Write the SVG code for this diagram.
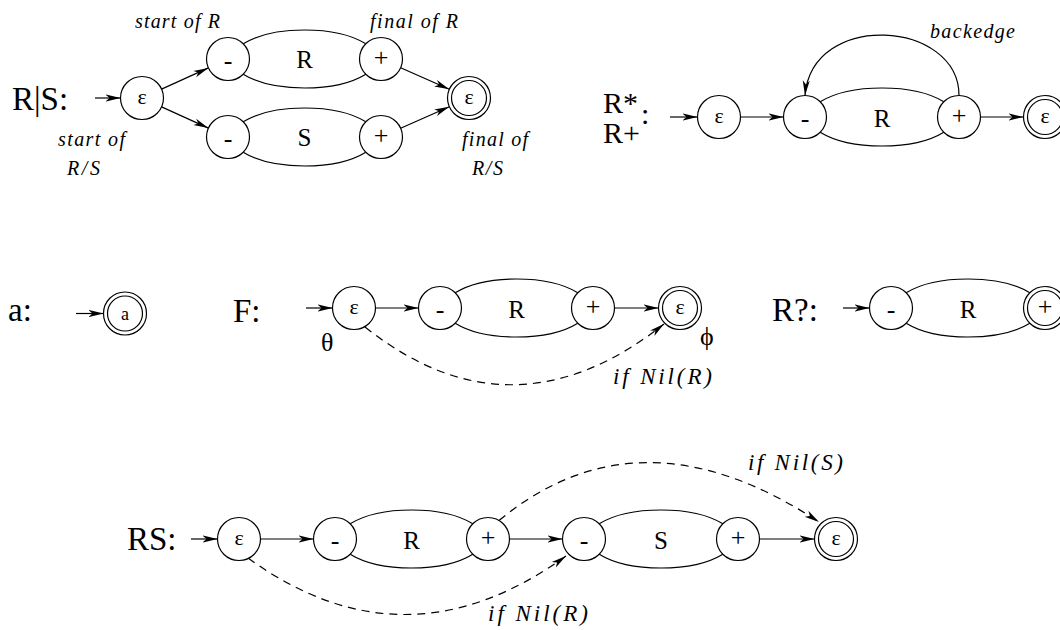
<svg xmlns="http://www.w3.org/2000/svg" width="1060" height="630" viewBox="0 0 1060 630">
<defs>
<marker id="ah" markerUnits="userSpaceOnUse" markerWidth="16" markerHeight="10" refX="15" refY="5" orient="auto">
<path d="M0,1.5 L15,5 L0,8.5 L4,5 Z" fill="#000"/>
</marker>
<style>
.n{fill:#fff;stroke:#000;stroke-width:1.2}
.lens{fill:none;stroke:#000;stroke-width:1.2}
.e{fill:none;stroke:#000;stroke-width:1.2;marker-end:url(#ah)}
.d{fill:none;stroke:#000;stroke-width:1.2;stroke-dasharray:8 6;marker-end:url(#ah)}
text{font-family:'Liberation Serif',Tinos,'Noto Serif','DejaVu Serif','Nimbus Roman','FreeSerif','Times New Roman',Times,serif;fill:#000}
.big{font-size:33px}
.sym{font-size:26px;text-anchor:middle}
.eps{font-size:22px;text-anchor:middle}
.lab{font-size:25px;text-anchor:middle}
.it{font-style:italic;font-size:20px}
.it2{font-style:italic;font-size:23px}
.gr{font-size:26px}
</style>
</defs>
<rect width="1060" height="630" fill="#fff"/>

<g id="lenses">
<path class="lens" d="M243.2,43.8 C273,25.4 336,25.4 365.8,43.8 M243.2,74.2 C273,92.6 336,92.6 365.8,74.2"/>
<path class="lens" d="M243.2,121.8 C273,103.4 336,103.4 365.8,121.8 M243.2,152.2 C273,170.6 336,170.6 365.8,152.2"/>
<path class="lens" d="M820.2,101.8 C850,83.4 914,83.4 943.8,101.8 M820.2,132.2 C850,150.6 914,150.6 943.8,132.2"/>
<path class="lens" d="M455.2,292.8 C485,274.4 548,274.4 577.8,292.8 M455.2,323.2 C485,341.6 548,341.6 577.8,323.2"/>
<path class="lens" d="M906.2,292.8 C936,274.4 1000,274.4 1029.8,292.8 M906.2,323.2 C936,341.6 1000,341.6 1029.8,323.2"/>
<path class="lens" d="M350.2,523.8 C380,505.4 443,505.4 472.8,523.8 M350.2,554.2 C380,572.6 443,572.6 472.8,554.2"/>
<path class="lens" d="M599.2,523.8 C629,505.4 693,505.4 722.8,523.8 M599.2,554.2 C629,572.6 693,572.6 722.8,554.2"/>
</g>

<g id="connectors">
<line class="e" x1="95" y1="98" x2="120.5" y2="98"/>
<line class="e" x1="161.6" y1="89.1" x2="208.4" y2="67.9"/>
<line class="e" x1="161.6" y1="106.9" x2="208.4" y2="128.1"/>
<line class="e" x1="400.6" y1="67.7" x2="449.3" y2="89.3"/>
<line class="e" x1="400.6" y1="128.3" x2="449.3" y2="106.7"/>
<line class="e" x1="670" y1="117" x2="697.5" y2="117"/>
<line class="e" x1="740.5" y1="117" x2="783.5" y2="117"/>
<line class="e" x1="980.5" y1="117" x2="1023.5" y2="117"/>
<path class="e" d="M959,95.5 C959,20 812,10 805,95.5"/>
<line class="e" x1="76" y1="313.5" x2="103.5" y2="313.5"/>
<line class="e" x1="306" y1="308" x2="332.5" y2="308"/>
<line class="e" x1="375.5" y1="308" x2="418.5" y2="308"/>
<line class="e" x1="614.5" y1="308" x2="658.5" y2="308"/>
<path class="d" d="M365,327 Q512,444 664,324"/>
<line class="e" x1="843" y1="308" x2="869.5" y2="308"/>
<line class="e" x1="191" y1="539" x2="217.5" y2="539"/>
<line class="e" x1="260.5" y1="539" x2="313.5" y2="539"/>
<line class="e" x1="509.5" y1="539" x2="562.5" y2="539"/>
<line class="e" x1="759.5" y1="539" x2="814.5" y2="539"/>
<path class="d" d="M248,558 Q405,672 566,556"/>
<path class="d" d="M499,520.5 Q640,404 819,522"/>
</g>

<text class="big" x="12" y="110">R|S:</text>
<g id="rs_start"><circle class="n" cx="142" cy="98" r="21.5"/><text class="eps" x="142" y="104">ε</text></g>
<g id="rs_r_minus"><circle class="n" cx="228" cy="59" r="21.5"/><text class="sym" x="228" y="69">-</text></g>
<g id="rs_r_plus"><circle class="n" cx="381" cy="59" r="21.5"/><text class="sym" x="381" y="66">+</text></g>
<g id="rs_s_minus"><circle class="n" cx="228" cy="137" r="21.5"/><text class="sym" x="228" y="147">-</text></g>
<g id="rs_s_plus"><circle class="n" cx="381" cy="137" r="21.5"/><text class="sym" x="381" y="144">+</text></g>
<g id="rs_final"><circle class="n" cx="469" cy="98" r="21.5"/><circle class="n" cx="469" cy="98" r="17.5"/><text class="eps" x="469" y="104">ε</text></g>
<text class="lab" x="304.5" y="68">R</text>
<text class="lab" x="304.5" y="146">S</text>
<text class="it" x="135" y="28" textLength="85" lengthAdjust="spacing">start of R</text>
<text class="it" x="370" y="28" textLength="88" lengthAdjust="spacing">final of R</text>
<text class="it" x="58" y="146" textLength="67" lengthAdjust="spacing">start of</text>
<text class="it" x="67" y="175" textLength="33" lengthAdjust="spacing">R/S</text>
<text class="it" x="462" y="146" textLength="66" lengthAdjust="spacing">final of</text>
<text class="it" x="472" y="175" textLength="31" lengthAdjust="spacing">R/S</text>

<text class="big" x="603" y="113" style="font-size:30px">R*</text>
<text class="big" x="603" y="143" style="font-size:30px">R+</text>
<text class="big" x="641" y="124" style="font-size:30px">:</text>
<g id="star_start"><circle class="n" cx="719" cy="117" r="21.5"/><text class="eps" x="719" y="123">ε</text></g>
<g id="star_minus"><circle class="n" cx="805" cy="117" r="21.5"/><text class="sym" x="805" y="127">-</text></g>
<g id="star_plus"><circle class="n" cx="959" cy="117" r="21.5"/><text class="sym" x="959" y="124">+</text></g>
<g id="star_final"><circle class="n" cx="1045" cy="117" r="21.5"/><circle class="n" cx="1045" cy="117" r="17.5"/><text class="eps" x="1045" y="123">ε</text></g>
<text class="lab" x="882" y="126.5">R</text>
<text class="it" x="930" y="38" textLength="85" lengthAdjust="spacing">backedge</text>

<text class="big" x="8" y="321">a:</text>
<g id="a_node"><circle class="n" cx="125" cy="313.5" r="21.5"/><circle class="n" cx="125" cy="313.5" r="17.5"/><text class="eps" x="125" y="320" style="font-size:18px">a</text></g>

<text class="big" x="233" y="322">F:</text>
<g id="f_start"><circle class="n" cx="354" cy="308" r="21.5"/><text class="eps" x="354" y="314">ε</text></g>
<g id="f_minus"><circle class="n" cx="440" cy="308" r="21.5"/><text class="sym" x="440" y="318">-</text></g>
<g id="f_plus"><circle class="n" cx="593" cy="308" r="21.5"/><text class="sym" x="593" y="315">+</text></g>
<g id="f_final"><circle class="n" cx="680" cy="308" r="21.5"/><circle class="n" cx="680" cy="308" r="17.5"/><text class="eps" x="680" y="314">ε</text></g>
<text class="lab" x="516.5" y="317.5">R</text>
<text class="gr" x="321" y="351">θ</text>
<text class="gr" x="700" y="345">ϕ</text>
<text class="it2" x="613" y="384" textLength="99" lengthAdjust="spacing">if Nil(R)</text>

<text class="big" x="772" y="321">R?:</text>
<g id="q_minus"><circle class="n" cx="891" cy="308" r="21.5"/><text class="sym" x="891" y="318">-</text></g>
<g id="q_plus"><circle class="n" cx="1045" cy="308" r="21.5"/><circle class="n" cx="1045" cy="308" r="17.5"/><text class="sym" x="1045" y="315">+</text></g>
<text class="lab" x="968" y="317.5">R</text>

<text class="big" x="127" y="550">RS:</text>
<g id="seq_start"><circle class="n" cx="239" cy="539" r="21.5"/><text class="eps" x="239" y="545">ε</text></g>
<g id="seq_r_minus"><circle class="n" cx="335" cy="539" r="21.5"/><text class="sym" x="335" y="549">-</text></g>
<g id="seq_r_plus"><circle class="n" cx="488" cy="539" r="21.5"/><text class="sym" x="488" y="546">+</text></g>
<g id="seq_s_minus"><circle class="n" cx="584" cy="539" r="21.5"/><text class="sym" x="584" y="549">-</text></g>
<g id="seq_s_plus"><circle class="n" cx="738" cy="539" r="21.5"/><text class="sym" x="738" y="546">+</text></g>
<g id="seq_final"><circle class="n" cx="836" cy="539" r="21.5"/><circle class="n" cx="836" cy="539" r="17.5"/><text class="eps" x="836" y="545">ε</text></g>
<text class="lab" x="411.5" y="548.5">R</text>
<text class="lab" x="661" y="548.5">S</text>
<text class="it2" x="748" y="470" textLength="95" lengthAdjust="spacing">if Nil(S)</text>
<text class="it2" x="488" y="621" textLength="100" lengthAdjust="spacing">if Nil(R)</text>
</svg>
